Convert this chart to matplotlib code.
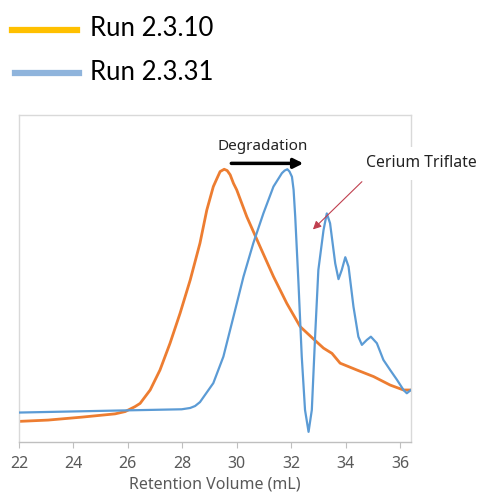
import numpy as np
import matplotlib
matplotlib.use("Agg")
import matplotlib.pyplot as plt
from matplotlib.lines import Line2D

# values (y is relative detector response, 0..1 of the plot height)
run10_x = [22.0, 23.07, 24.31, 25.53, 25.90, 26.26, 26.45, 26.82, 27.18, 27.55, 27.92,
           28.29, 28.65, 28.90, 29.14, 29.28, 29.39, 29.54, 29.65, 29.76, 29.88, 30.00,
           30.37, 30.86, 31.35, 31.84, 32.33, 32.82, 33.19, 33.50, 33.80, 34.42, 35.03,
           35.64, 36.13, 36.40]
run10_y = [0.063, 0.067, 0.076, 0.086, 0.093, 0.108, 0.118, 0.159, 0.220, 0.302, 0.394,
           0.495, 0.608, 0.709, 0.781, 0.807, 0.827, 0.834, 0.830, 0.817, 0.791, 0.771,
           0.689, 0.597, 0.506, 0.424, 0.353, 0.315, 0.287, 0.271, 0.241, 0.220, 0.200,
           0.174, 0.159, 0.159]

run31_x = [22.0, 25.53, 27.98, 28.29, 28.47, 28.65, 29.14, 29.51, 29.88, 30.25, 30.61,
           30.98, 31.35, 31.66, 31.76, 31.86, 31.94, 32.03, 32.09, 32.15, 32.27, 32.39,
           32.51, 32.64, 32.76, 32.88, 33.00, 33.19, 33.31, 33.43, 33.62, 33.74, 33.86,
           33.99, 34.11, 34.29, 34.47, 34.60, 34.78, 34.93, 35.15, 35.39, 35.64, 35.89,
           36.13, 36.25, 36.40]
run31_y = [0.090, 0.096, 0.100, 0.104, 0.110, 0.122, 0.180, 0.261, 0.383, 0.506, 0.608,
           0.699, 0.781, 0.822, 0.830, 0.834, 0.827, 0.811, 0.771, 0.689, 0.485, 0.261,
           0.098, 0.031, 0.098, 0.322, 0.526, 0.648, 0.699, 0.669, 0.546, 0.498, 0.526,
           0.565, 0.536, 0.414, 0.322, 0.297, 0.312, 0.322, 0.302, 0.251, 0.220, 0.190,
           0.159, 0.149, 0.159]

xticks = [22, 24, 26, 28, 30, 32, 34, 36]

orange = "#ED7D31"
blue = "#5B9BD5"
tick_gray = "#595959"

fig = plt.figure(figsize=(4.8, 5.03), dpi=100)
ax = fig.add_axes([0.0396, 0.1213, 0.8164, 0.6501])

ax.plot(run31_x, run31_y, color=blue, lw=1.6, zorder=3, solid_joinstyle="round")
ax.plot(run10_x, run10_y, color=orange, lw=2.0, zorder=2, solid_joinstyle="round")

ax.set_xlim(22, 36.4)
ax.set_ylim(0, 1)
ax.set_yticks([])
ax.set_xticks(xticks)
ax.set_xticklabels([str(t) for t in xticks], fontsize=11.5, color=tick_gray, family="Noto Sans")
ax.tick_params(axis="x", length=4, color="#bfbfbf", pad=6)
for s in ax.spines.values():
    s.set_color("#d9d9d9")
    s.set_linewidth(1.0)
ax.spines["bottom"].set_color("#bfbfbf")
ax.set_xlabel("Retention Volume (mL)", fontsize=11.5, color=tick_gray, family="Noto Sans", labelpad=3)

# annotations
ax.annotate("", xy=(32.55, 0.852), xytext=(29.7, 0.852),
            arrowprops=dict(arrowstyle="-|>", color="black", lw=2.5, mutation_scale=14))
ax.text(30.95, 0.905, "Degradation", ha="center", va="center", fontsize=11,
        family="Noto Sans", color="#222222")
ax.text(34.75, 0.852, "Cerium Triflate", ha="left", va="center", fontsize=11.3,
        family="Noto Sans", color="#222222", clip_on=False,
        bbox=dict(facecolor="white", edgecolor="none", pad=6), zorder=5)
ax.annotate("", xy=(32.8, 0.65), xytext=(34.6, 0.796),
            arrowprops=dict(arrowstyle="-|>", color="#c0404f", lw=0.8, mutation_scale=12,
                            shrinkA=0, shrinkB=0))

# legend drawn in figure coordinates
W, H = 480, 503
fig.add_artist(Line2D([12 / W, 77 / W], [1 - 30 / H, 1 - 30 / H], color="#FFC000", lw=4.5))
fig.add_artist(Line2D([15 / W, 79 / W], [1 - 73 / H, 1 - 73 / H], color="#8FB4DC", lw=4.5))
fig.text(90 / W, 1 - 29 / H, "Run 2.3.10", fontsize=18.5, family="Lato", va="center", ha="left")
fig.text(90 / W, 1 - 73 / H, "Run 2.3.31", fontsize=18.5, family="Lato", va="center", ha="left")

fig.savefig("out.png", dpi=100)
